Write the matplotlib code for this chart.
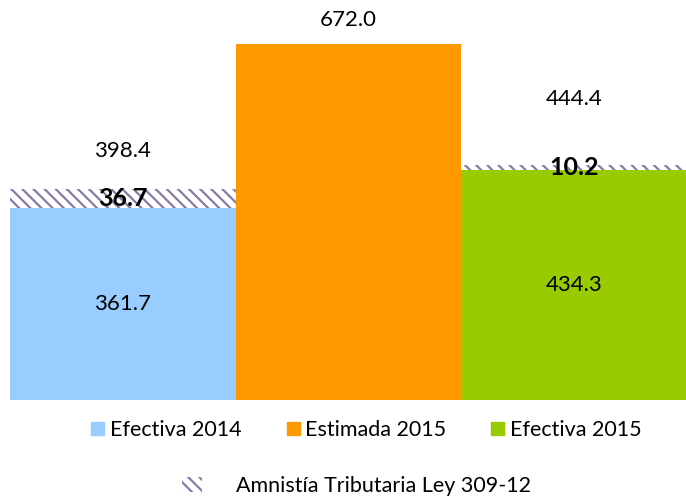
import matplotlib.pyplot as plt
from matplotlib.patches import Patch

categorias = ['Efectiva 2014', 'Estimada 2015', 'Efectiva 2015']
base = [361.7, 672.0, 434.3]
amnistia = [36.7, 0.0, 10.2]
totales = [398.4, 672.0, 444.4]
colores = ['#99CCFF', '#FF9900', '#99CC00']

plt.rcParams['font.family'] = ['Lato', 'DejaVu Sans']
plt.rcParams['hatch.linewidth'] = 1.6

fig = plt.figure(figsize=(6.86, 4.98), dpi=100)
ax = fig.add_axes([10 / 686, 98 / 498, 677 / 686, 400 / 498])

hatch_color = '#8A7AA6'
x = range(len(categorias))
ax.bar(x, base, width=1.0, color=colores, linewidth=0)
ax.bar(x, amnistia, bottom=base, width=1.0, color='white',
       edgecolor=hatch_color, hatch='\\\\\\', linewidth=0)

# distancia (px) de la etiqueta total sobre cada barra
offsets = [38, 24, 66]
for i in x:
    if amnistia[i] > 0:
        ax.text(i, base[i] / 2, f'{base[i]:.1f}', ha='center', va='center', fontsize=16)
        ax.text(i, base[i] + amnistia[i] / 2, f'{amnistia[i]:.1f}', ha='center',
                va='center', fontsize=18, fontweight='bold')
    ax.annotate(f'{totales[i]:.1f}', (i, totales[i]), xytext=(0, offsets[i]),
                textcoords='offset pixels', ha='center', va='center', fontsize=16)

ax.set_xlim(-0.5, 2.5)
ax.set_ylim(0, 672.0 * 400 / 356)
ax.axis('off')

fig.legend([Patch(color=c) for c in colores], categorias, loc='center',
           bbox_to_anchor=(0.534, 68 / 498), ncol=3, frameon=False,
           fontsize=15.5, handlelength=0.6, handleheight=0.6,
           handletextpad=0.25, columnspacing=2.1)
fig.legend([Patch(facecolor='white', edgecolor=hatch_color, hatch='\\\\\\', linewidth=0)],
           ['Amnistía Tributaria Ley 309-12'], loc='center',
           bbox_to_anchor=(0.52, 12 / 498), frameon=False, fontsize=15.5,
           handlelength=0.9, handleheight=0.7, handletextpad=1.6)

fig.savefig('out.png', dpi=100)
